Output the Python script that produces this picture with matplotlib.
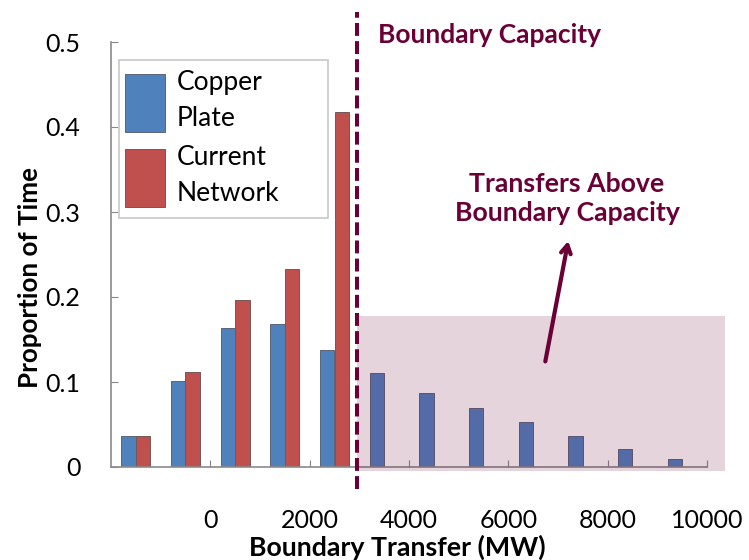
import numpy as np
import matplotlib
matplotlib.use("Agg")
import matplotlib.pyplot as plt
from matplotlib.patches import Rectangle

plt.rcParams['font.family'] = ['Lato', 'DejaVu Sans']

# bin centres (MW) and share of time in each bin
bin_centres = [-1500, -500, 500, 1500, 2500, 3500, 4500, 5500, 6500, 7500, 8500, 9500]
copper_plate = [0.036, 0.101, 0.164, 0.168, 0.138, 0.111, 0.087, 0.070, 0.053, 0.037, 0.021, 0.009]
current_network = [0.036, 0.112, 0.196, 0.233, 0.418, 0, 0, 0, 0, 0, 0, 0]
x_ticks = [0, 2000, 4000, 6000, 8000, 10000]
y_ticks = [0, 0.1, 0.2, 0.3, 0.4, 0.5]
capacity = 2950

maroon = '#6A0035'
blue = '#4F81BD'
red = '#C0504D'

W, H = 749, 560
fig = plt.figure(figsize=(W / 100, H / 100), dpi=100)
ax = fig.add_axes([111 / W, (H - 467) / H, 596 / W, 425 / H])

x = np.array(bin_centres, dtype=float)
bw = 290
ax.bar(x - bw / 2, copper_plate, width=bw, color=blue, edgecolor='#5a6676',
       linewidth=0.7, label='Copper\nPlate', zorder=2)
red_x = [c for c, v in zip(x, current_network) if v > 0]
red_v = [v for v in current_network if v > 0]
ax.bar(np.array(red_x) + bw / 2, red_v, width=bw, color=red, edgecolor='#735858',
       linewidth=0.7, label='Current\nNetwork', zorder=2)

ax.set_xlim(-2000, 10000)
ax.set_ylim(0, 0.5)
ax.set_xticks(x_ticks)
ax.set_xticklabels([str(t) for t in x_ticks])
ax.set_yticks(y_ticks)
ax.set_yticklabels(['0' if t == 0 else f'{t:.1f}' for t in y_ticks])
ax.tick_params(axis='both', direction='in', length=5, color='#888888',
               labelsize=18, colors='black')
ax.tick_params(axis='x', pad=30)
ax.tick_params(axis='y', pad=22)
for s in ['top', 'right']:
    ax.spines[s].set_visible(False)
for s in ['left', 'bottom']:
    ax.spines[s].set_color('#8a8a8a')
    ax.spines[s].set_linewidth(1.2)

ax.set_xlabel('Boundary Transfer (MW)', fontsize=19.3, fontweight='bold')
ax.xaxis.set_label_coords((397 - 111) / 596, (467 - 547) / 425)
ax.xaxis.label.set_va('center')
ax.set_ylabel('Proportion of Time', fontsize=18.7, fontweight='bold')
ax.yaxis.set_label_coords((30 - 111) / 596, (467 - 278) / 425)
ax.yaxis.label.set_va('center')

# region beyond the boundary capacity
ax.add_patch(Rectangle((capacity, -0.005), 10370 - capacity, 0.1826,
                       facecolor=maroon, alpha=0.17, edgecolor='none',
                       zorder=4, clip_on=False))
ax.axvline(capacity, ymin=-0.052, ymax=1.07, color=maroon, linewidth=2.9,
           linestyle=(0, (3.2, 1.3)), clip_on=False, zorder=5)

ax.annotate('', xy=(7216, 0.269), xytext=(6734, 0.121),
            arrowprops=dict(arrowstyle='->,head_length=0.6,head_width=0.35',
                            color=maroon, linewidth=3), zorder=6)

fig.text(378 / W, 1 - 35 / H, 'Boundary Capacity', color=maroon,
         fontsize=19, fontweight='bold', ha='left', va='center')
fig.text(567 / W, 1 - 198 / H, 'Transfers Above\nBoundary Capacity', color=maroon,
         fontsize=19.2, fontweight='bold', ha='center', va='center',
         linespacing=1.25)

# legend box drawn by hand, entries placed inside it
ax.add_patch(Rectangle((119 / W, 1 - 218 / H), 209 / W, 158 / H,
                       transform=fig.transFigure, facecolor='white',
                       edgecolor='#c8c8c8', linewidth=1.2, zorder=7,
                       clip_on=False))
leg = ax.legend(loc='upper left', bbox_to_anchor=(125 / W, 1 - 70 / H),
                bbox_transform=fig.transFigure, fontsize=19, frameon=False,
                handlelength=1.5, handleheight=3.0, handletextpad=0.45,
                borderpad=0, labelspacing=0.5, borderaxespad=0)
leg.set_zorder(8)
for t in leg.get_texts():
    t.set_linespacing(1.55)

fig.savefig('out.png', dpi=100)
